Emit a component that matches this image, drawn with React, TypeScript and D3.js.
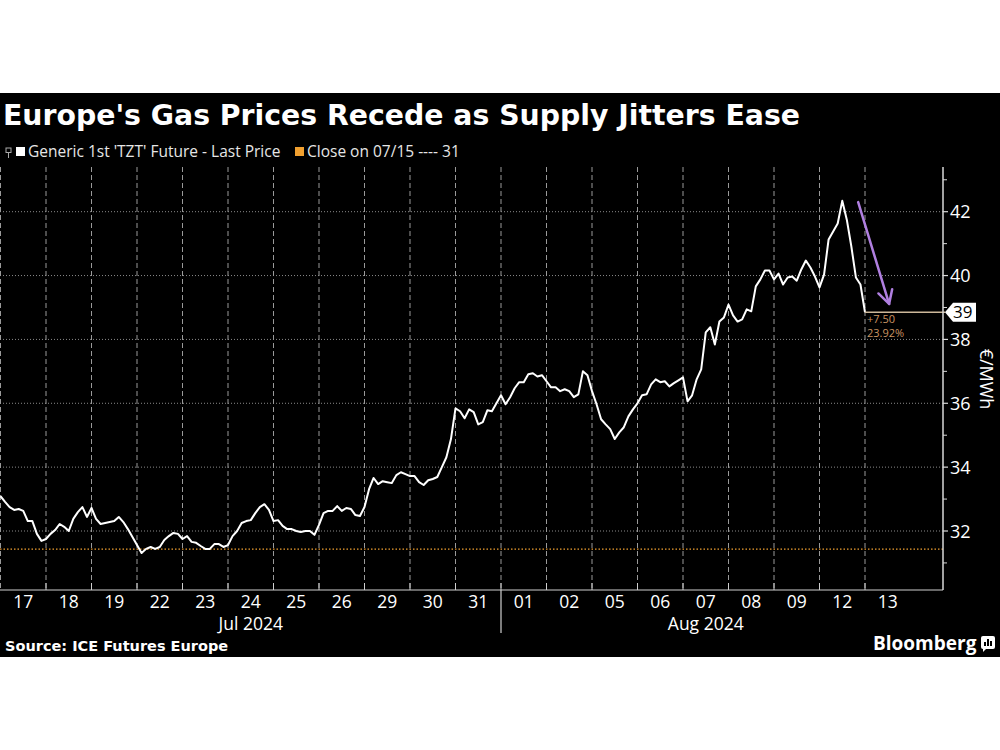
import React from "react";
import * as d3 from "d3";

// ---------- DATA ----------
const dayLabels = ["17", "18", "19", "22", "23", "24", "25", "26", "29", "30", "31", "01", "02", "05", "06", "07", "08", "09", "12", "13"];
const monthLabels = [
  { label: "Jul 2024", from: 0, to: 11 },
  { label: "Aug 2024", from: 11, to: 20 },
];
const yMajorTicks = [32, 34, 36, 38, 40, 42];
const yMinorTicks = [31, 33, 35, 37, 39, 41, 43];

// intraday prices (EUR/MWh), 10 samples per trading day
const d17 = [33.09, 32.91, 32.75, 32.66, 32.69, 32.63, 32.31, 32.31, 31.91, 31.69];
const d18 = [31.75, 31.91, 32.03, 32.22, 32.13, 32.0, 32.38, 32.59, 32.75, 32.44];
const d19 = [32.72, 32.38, 32.22, 32.25, 32.28, 32.31, 32.44, 32.28, 32.06, 31.81];
const d22 = [31.56, 31.31, 31.44, 31.5, 31.44, 31.5, 31.72, 31.84, 31.94, 31.91];
const d23 = [31.75, 31.84, 31.66, 31.63, 31.53, 31.44, 31.44, 31.59, 31.59, 31.5];
const d24 = [31.56, 31.84, 32.0, 32.25, 32.31, 32.34, 32.56, 32.75, 32.84, 32.66];
const d25 = [32.31, 32.34, 32.16, 32.06, 32.06, 32.0, 31.97, 32.0, 32.0, 31.88];
const d26 = [32.19, 32.56, 32.63, 32.63, 32.78, 32.63, 32.72, 32.69, 32.5, 32.47];
const d29 = [32.75, 33.31, 33.66, 33.47, 33.56, 33.53, 33.5, 33.75, 33.84, 33.78];
const d30 = [33.72, 33.72, 33.53, 33.44, 33.59, 33.63, 33.69, 34.0, 34.31, 34.88];
const d31 = [35.84, 35.75, 35.53, 35.81, 35.72, 35.34, 35.41, 35.78, 35.75, 36.0];
const a01 = [36.25, 35.97, 36.19, 36.47, 36.66, 36.66, 36.91, 36.94, 36.84, 36.88];
const a02 = [36.69, 36.5, 36.5, 36.38, 36.44, 36.38, 36.19, 36.28, 37.0, 36.88];
const a05 = [36.38, 35.97, 35.5, 35.34, 35.19, 34.88, 35.09, 35.25, 35.59, 35.81];
const a06 = [36.0, 36.25, 36.28, 36.59, 36.75, 36.66, 36.69, 36.53, 36.63, 36.72];
const a07 = [36.81, 36.06, 36.25, 36.75, 37.06, 38.22, 38.38, 37.84, 38.56, 38.69];
const a08 = [39.09, 38.75, 38.56, 38.63, 38.94, 38.88, 39.66, 39.88, 40.16, 40.16];
const a09 = [39.88, 40.06, 39.72, 39.94, 39.97, 39.84, 40.19, 40.47, 40.25, 39.97];
const a12 = [39.63, 40.03, 41.13, 41.38, 41.63, 42.34, 41.75, 40.91, 39.94, 39.72];
const a13 = [38.85];
const dailyPrices = [d17, d18, d19, d22, d23, d24, d25, d26, d29, d30, d31, a01, a02, a05, a06, a07, a08, a09, a12, a13];

const lastPrice = 38.85;
const lastLabel = "39";
const closeValue = 31.43;
const changeAbs = "+7.50";
const changePct = "23.92%";
// arrow annotation in data space: [trading-day index, price]
const arrowFrom: [number, number] = [18.85, 42.3];
const arrowTo: [number, number] = [19.53, 39.11];

const title = "Europe's Gas Prices Recede as Supply Jitters Ease";
const legendMain = "Generic 1st 'TZT' Future - Last Price";
const legendClose = "Close on 07/15 ---- 31";
const source = "Source: ICE Futures Europe";
const yTitle = "€/MWh";

// ---------- LAYOUT ----------
const W = 1000;
const H = 750;
const plotLeft = 0.5;
const plotRight = 943;
const plotTop = 167;
const plotBottom = 590;
const labelFont = "'Open Sans', 'Noto Sans', sans-serif";
const boldFont = "'DejaVu Sans', Verdana, sans-serif";

export default function App() {
  const x = d3.scaleLinear().domain([0, 20]).range([plotLeft, 910.5]);
  const y = d3.scaleLinear().domain([32, 42]).range([531, 211.7]);

  const points: [number, number][] = dailyPrices.flatMap((arr, d) =>
    arr.map((v, j) => [d + j / arr.length, v] as [number, number])
  );
  const line = d3
    .line<[number, number]>()
    .x((d) => x(d[0]))
    .y((d) => y(d[1]));

  const lastPt = points[points.length - 1];
  const lx = x(lastPt[0]);
  const ly = y(lastPrice);

  const ax0 = x(arrowFrom[0]);
  const ay0 = y(arrowFrom[1]);
  const ax1 = x(arrowTo[0]);
  const ay1 = y(arrowTo[1]);
  const ang = Math.atan2(ay1 - ay0, ax1 - ax0);
  const headLen = 15;
  const headAng = 0.5;
  const h1 = [ax1 - headLen * Math.cos(ang - headAng), ay1 - headLen * Math.sin(ang - headAng)];
  const h2 = [ax1 - headLen * Math.cos(ang + headAng), ay1 - headLen * Math.sin(ang + headAng)];

  const gridDays = d3.range(0, 20);

  return (
    <div style={{ position: "absolute", left: 0, top: 0 }}>
      <svg width={W} height={H} viewBox={`0 0 ${W} ${H}`} style={{ display: "block", background: "#fff" }}>
        <rect x={0} y={93} width={W} height={564} fill="#000" />

        {/* title */}
        <text x={3} y={125} fill="#fff" fontFamily={boldFont} fontWeight="bold" fontSize={28} textLength={797} lengthAdjust="spacingAndGlyphs">
          {title}
        </text>

        {/* legend */}
        <g>
          <rect x={6} y={148} width={5} height={4.5} fill="none" stroke="#aaa" strokeWidth={1} />
          <line x1={8.5} y1={152.5} x2={8.5} y2={158} stroke="#aaa" strokeWidth={1} />
          <rect x={16} y={147} width={9} height={9} fill="#fff" />
          <text x={28} y={157} fill="#e6e6e6" fontFamily={labelFont} fontSize={15.5}>
            {legendMain}
          </text>
          <rect x={295} y={147} width={9} height={9} fill="#f0a030" />
          <text x={307} y={157} fill="#e6e6e6" fontFamily={labelFont} fontSize={15.5}>
            {legendClose}
          </text>
        </g>

        {/* horizontal dotted grid */}
        {yMajorTicks.map((t) => (
          <line key={"hg" + t} x1={0} x2={plotRight} y1={y(t)} y2={y(t)} stroke="#8a8a8a" strokeWidth={1} strokeDasharray="1,2" />
        ))}
        {/* vertical dashed grid */}
        {gridDays.map((k) => (
          <line key={"vg" + k} x1={x(k)} x2={x(k)} y1={plotTop} y2={plotBottom} stroke="#9a9a9a" strokeWidth={1} strokeDasharray="5,3" />
        ))}

        {/* close line */}
        <line x1={0} x2={plotRight} y1={y(closeValue)} y2={y(closeValue)} stroke="#f0a030" strokeWidth={1.2} strokeDasharray="1.5,2" />

        {/* price line */}
        <path d={line(points) || ""} fill="none" stroke="#fff" strokeWidth={2} strokeLinejoin="round" />

        {/* last price guide */}
        <line x1={lx} x2={plotRight + 2} y1={ly} y2={ly} stroke="#cdb89a" strokeWidth={1.5} />
        <text x={lx + 2} y={ly + 11} fill="#c99463" fontFamily={labelFont} fontSize={11}>
          {changeAbs}
        </text>
        <text x={lx + 2} y={ly + 25} fill="#c99463" fontFamily={labelFont} fontSize={11}>
          {changePct}
        </text>

        {/* arrow */}
        <g stroke="#b07fe0" strokeWidth={2.5} strokeLinecap="round" fill="none">
          <line x1={ax0} y1={ay0} x2={ax1} y2={ay1} />
          <polyline points={`${h1[0]},${h1[1]} ${ax1},${ay1} ${h2[0]},${h2[1]}`} strokeLinejoin="round" />
        </g>

        {/* bottom axis */}
        <line x1={0} x2={plotRight} y1={plotBottom} y2={plotBottom} stroke="#d0d0d0" strokeWidth={1.2} />
        {d3.range(1, 20).map((k) => (
          <line key={"xt" + k} x1={x(k)} x2={x(k)} y1={plotBottom - 7} y2={plotBottom} stroke="#d0d0d0" strokeWidth={1} />
        ))}
        {dayLabels.map((lab, i) => (
          <text key={"xl" + i} x={x(i + 0.5)} y={608} textAnchor="middle" fill="#fff" fontFamily={labelFont} fontSize={17.5}>
            {lab}
          </text>
        ))}
        {monthLabels.map((m) => (
          <text key={m.label} x={(x(m.from) + x(m.to)) / 2} y={630} textAnchor="middle" fill="#fff" fontFamily={labelFont} fontSize={17.5}>
            {m.label}
          </text>
        ))}
        <line x1={x(11)} x2={x(11)} y1={plotBottom} y2={633} stroke="#d0d0d0" strokeWidth={1.2} />

        {/* right axis */}
        <line x1={plotRight} x2={plotRight} y1={plotTop} y2={plotBottom} stroke="#d8d8d8" strokeWidth={1.5} />
        {yMinorTicks.map((t) => (
          <line key={"ym" + t} x1={plotRight} x2={plotRight + 4} y1={y(t)} y2={y(t)} stroke="#d8d8d8" strokeWidth={1} />
        ))}
        {yMajorTicks.map((t) => (
          <g key={"yl" + t}>
            <line x1={plotRight} x2={plotRight + 5} y1={y(t)} y2={y(t)} stroke="#d8d8d8" strokeWidth={1.2} />
            <text x={950} y={y(t) + 6.5} fill="#fff" fontFamily={labelFont} fontSize={18}>
              {t}
            </text>
          </g>
        ))}
        <text
          transform={`translate(980, ${379}) rotate(90)`}
          textAnchor="middle"
          fill="#fff"
          fontFamily={labelFont}
          fontSize={18}
        >
          {yTitle}
        </text>

        {/* last price tag */}
        <path
          d={`M ${plotRight + 2} ${ly} L ${plotRight + 10} ${ly - 9.5} L ${plotRight + 33} ${ly - 9.5} L ${plotRight + 33} ${ly + 9.5} L ${plotRight + 10} ${ly + 9.5} Z`}
          fill="#fff"
        />
        <text x={plotRight + 10} y={ly + 6} fill="#000" fontFamily={labelFont} fontSize={17}>
          {lastLabel}
        </text>

        {/* footer */}
        <text x={5} y={651} fill="#fff" fontFamily={boldFont} fontWeight="bold" fontSize={14.5}>
          {source}
        </text>
        <text x={873} y={650} fill="#fff" fontFamily={labelFont} fontWeight={700} fontSize={19}>
          Bloomberg
        </text>
        <g>
          <rect x={981} y={636} width={14} height={13} rx={2} fill="#fff" />
          <path d="M 983 648 L 983 652 L 987 648 Z" fill="#fff" />
          <rect x={984} y={642} width={2} height={4} fill="#000" />
          <rect x={987} y={639} width={2} height={7} fill="#000" />
          <rect x={990} y={641} width={2} height={5} fill="#000" />
        </g>
      </svg>
    </div>
  );
}
